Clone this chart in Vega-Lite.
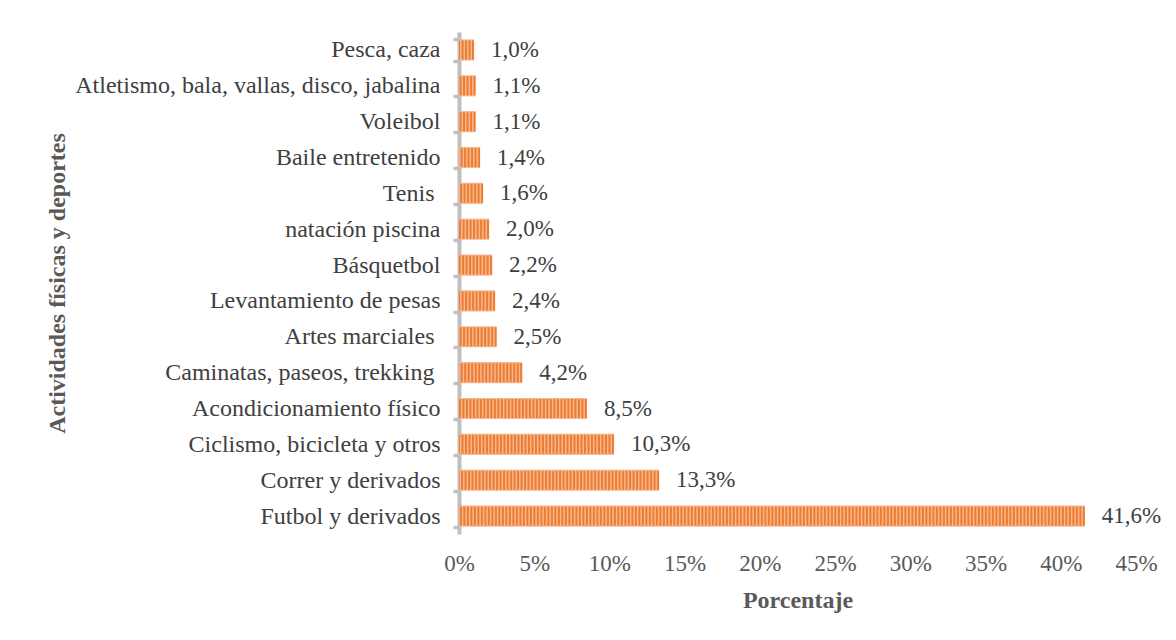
{
  "$schema": "https://vega.github.io/schema/vega-lite/v6.json",
  "autosize": "none",
  "width": 677,
  "height": 502,
  "padding": {"left": 459, "top": 32, "right": 40, "bottom": 106},
  "background": "white",
  "config": {
    "view": {"stroke": null},
    "font": "Liberation Serif",
    "locale": {"number": {"decimal": ",", "thousands": ".", "grouping": [3], "currency": ["", " €"]}}
  },
  "data": {
    "values": [
      {"actividad": "Pesca, caza", "porcentaje": 0.010},
      {"actividad": "Atletismo, bala, vallas, disco, jabalina", "porcentaje": 0.011},
      {"actividad": "Voleibol", "porcentaje": 0.011},
      {"actividad": "Baile entretenido", "porcentaje": 0.014},
      {"actividad": "Tenis\u00a0\u200b", "porcentaje": 0.016},
      {"actividad": "natación piscina", "porcentaje": 0.020},
      {"actividad": "Básquetbol", "porcentaje": 0.022},
      {"actividad": "Levantamiento de pesas", "porcentaje": 0.024},
      {"actividad": "Artes marciales\u00a0\u200b", "porcentaje": 0.025},
      {"actividad": "Caminatas, paseos, trekking\u00a0\u200b", "porcentaje": 0.042},
      {"actividad": "Acondicionamiento físico", "porcentaje": 0.085},
      {"actividad": "Ciclismo, bicicleta y otros", "porcentaje": 0.103},
      {"actividad": "Correr y derivados", "porcentaje": 0.133},
      {"actividad": "Futbol y derivados", "porcentaje": 0.416}
    ]
  },
  "encoding": {
    "y": {
      "field": "actividad",
      "type": "nominal",
      "sort": null,
      "scale": {"paddingInner": 0.41, "paddingOuter": 0.205},
      "axis": {
        "domainColor": "#bfbfbf",
        "domainWidth": 4,
        "tickColor": "#bfbfbf",
        "tickWidth": 3.5,
        "tickSize": 6,
        "tickBand": "extent",
        "labelFontSize": 24,
        "labelColor": "#404040",
        "labelPadding": 13,
        "labelLimit": 0,
        "title": "Actividades físicas y deportes",
        "titleFontSize": 24,
        "titleFontWeight": "bold",
        "titleColor": "#595959",
        "titleX": -402,
        "titleY": 251,
        "titleAngle": -90,
        "titleAlign": "center",
        "titleBaseline": "middle"
      }
    },
    "x": {
      "field": "porcentaje",
      "type": "quantitative",
      "scale": {"domain": [0, 0.45], "nice": false},
      "axis": {
        "values": [0, 0.05, 0.1, 0.15, 0.2, 0.25, 0.3, 0.35, 0.4, 0.45],
        "format": ".0%",
        "domain": false,
        "ticks": false,
        "grid": false,
        "labelFlush": false,
        "labelFontSize": 23,
        "labelColor": "#595959",
        "labelPadding": 18,
        "title": "Porcentaje",
        "titleFontSize": 24,
        "titleFontWeight": "bold",
        "titleColor": "#595959",
        "titleY": 66,
        "titleBaseline": "middle"
      }
    }
  },
  "layer": [
    {"mark": {"type": "bar", "color": "#f6b791"}},
    {
      "mark": {"type": "rule", "color": "#ed7d31", "strokeWidth": 19, "strokeDash": [2, 1.5], "strokeCap": "butt"},
      "encoding": {"x2": {"datum": 0}}
    },
    {
      "mark": {"type": "text", "align": "left", "baseline": "middle", "dx": 17, "fontSize": 23, "color": "#404040"},
      "encoding": {"text": {"field": "porcentaje", "type": "quantitative", "format": ".1%"}}
    }
  ]
}
